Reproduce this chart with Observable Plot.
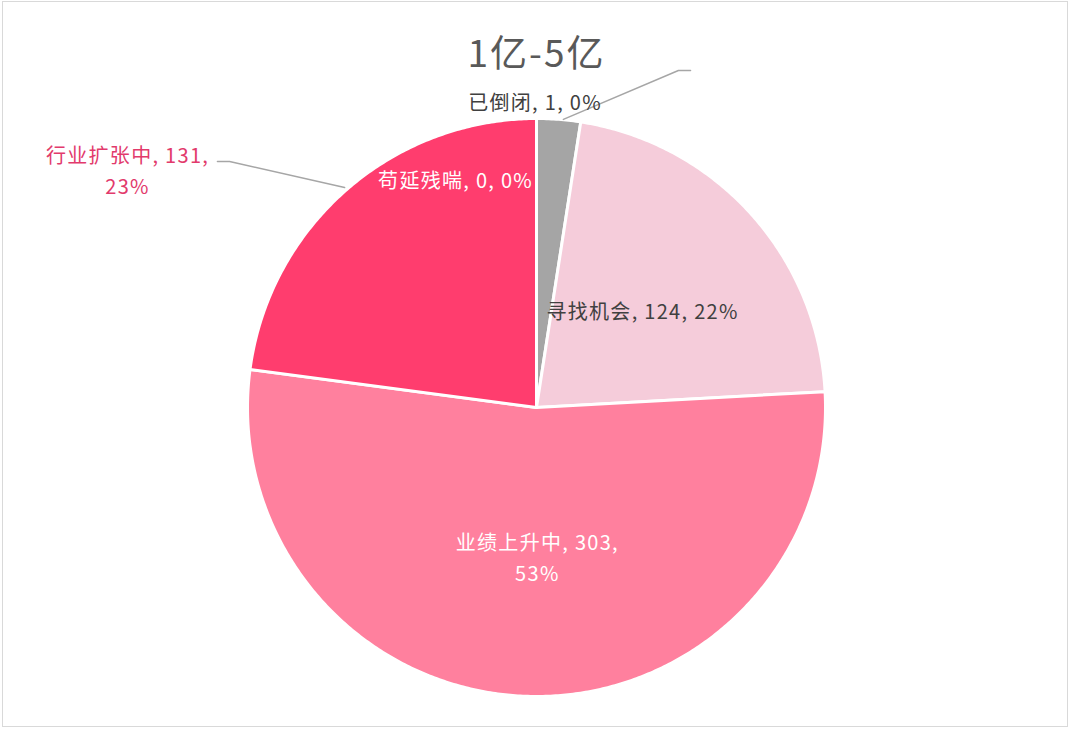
<!DOCTYPE html>
<html>
<head>
<meta charset="utf-8">
<script src="https://cdn.jsdelivr.net/npm/d3@7"></script>
<script src="https://cdn.jsdelivr.net/npm/@observablehq/plot@0.6"></script>
<style>
  html, body { margin: 0; padding: 0; background: #fff; }
  #wrap { position: relative; width: 1069px; height: 729px; overflow: hidden; }
  #border { position: absolute; left: 2px; top: 1px; width: 1064px; height: 724px; border: 1px solid #d9d9d9; }
  #chart { position: absolute; left: 0; top: 0; }
  #chart text { letter-spacing: 1.3px; }
  #chart .ttl text { letter-spacing: 2px; }
</style>
</head>
<body>
<div id="wrap"><div id="border"></div><div id="chart"></div></div>
<script>
// ---- data ----
const title = "1亿-5亿";
const categories = ["已倒闭", "寻找机会", "业绩上升中", "行业扩张中", "苟延残喘"];
// slice sizes as drawn in the picture
const sliceValues = [14, 124, 303, 131, 0];
// values and percentages as printed on the data labels
const labelValues = [1, 124, 303, 131, 0];
const labelPercents = ["0%", "22%", "53%", "23%", "0%"];
const colors = ["#A5A5A5", "#F5CCDA", "#FF809E", "#FF3D6E", "#C00000"];

// ---- layout (unit-circle coordinates, y up) ----
const cx = 536, cy = 407, R = 289, W = 1069, H = 729;
const labelLayout = [
  {lines: [`${categories[0]}, ${labelValues[0]}, ${labelPercents[0]}`], x: -0.005, y: 1.053, fill: "#404040"},
  {lines: [`${categories[1]}, ${labelValues[1]}, ${labelPercents[1]}`], x: 0.367, y: 0.330, fill: "#404040"},
  {lines: [`${categories[2]}, ${labelValues[2]},`, labelPercents[2]], x: 0.003, y: -0.526, fill: "#ffffff"},
  {lines: [`${categories[3]}, ${labelValues[3]},`, labelPercents[3]], x: -1.415, y: 0.813, fill: "#E23A6C"},
  {lines: [`${categories[4]}, ${labelValues[4]}, ${labelPercents[4]}`], x: -0.28, y: 0.783, fill: "#ffffff"}
];
const leaders = [
  {id: 0, pts: [[0.093, 0.997], [0.491, 1.166], [0.533, 1.166]]},
  {id: 3, pts: [[-0.664, 0.761], [-1.062, 0.851], [-1.104, 0.851]]}
];

// ---- build slices via d3.pie ----
const pie = d3.pie().sort(null).value(d => d.v)(categories.map((c, i) => ({c, v: sliceValues[i], i})));
const slicePts = [];
for (const s of pie) {
  if (s.endAngle - s.startAngle <= 0) continue;
  const c = s.data.c;
  slicePts.push({c, x: 0, y: 0, k: 0});
  const n = Math.max(2, Math.ceil((s.endAngle - s.startAngle) / (Math.PI / 360)));
  for (let j = 0; j <= n; j++) {
    const a = s.startAngle + (s.endAngle - s.startAngle) * j / n;
    slicePts.push({c, x: Math.sin(a), y: Math.cos(a), k: j + 1});
  }
  slicePts.push({c, x: 0, y: 0, k: n + 2});
}

const textRows = [];
labelLayout.forEach((L, i) => {
  const lh = 31 / R;
  const n = L.lines.length;
  L.lines.forEach((t, j) => {
    textRows.push({text: t, x: L.x, y: L.y + ((n - 1) / 2 - j) * lh, fill: L.fill, c: categories[i]});
  });
});
const leaderRows = leaders.flatMap(l => l.pts.map(([x, y]) => ({c: categories[l.id], x, y})));

const chart = Plot.plot({
  width: W, height: H,
  margin: 0,
  x: {domain: [-cx / R, (W - cx) / R], range: [0, W], axis: null},
  y: {domain: [-(H - cy) / R, cy / R], range: [H, 0], axis: null},
  color: {domain: categories, range: colors},
  style: {fontFamily: "'Noto Sans CJK SC', 'Noto Sans', sans-serif", background: "transparent"},
  marks: [
    Plot.line(slicePts, {x: "x", y: "y", z: "c", fill: "c", stroke: "#ffffff", strokeWidth: 3, strokeLinejoin: "round", curve: "linear"}),
    Plot.line(leaderRows, {x: "x", y: "y", z: "c", stroke: "#A6A6A6", strokeWidth: 1.5}),
    Plot.text(textRows, {x: "x", y: "y", text: "text", fill: d => d.fill, fontSize: 20, textAnchor: "middle"}),
    Plot.text([title], {x: 0, y: (cy - 55) / R, text: d => d, fill: "#595959", fontSize: 37, className: "ttl"})
  ]
});
document.getElementById("chart").appendChild(chart);
</script>
</body>
</html>
